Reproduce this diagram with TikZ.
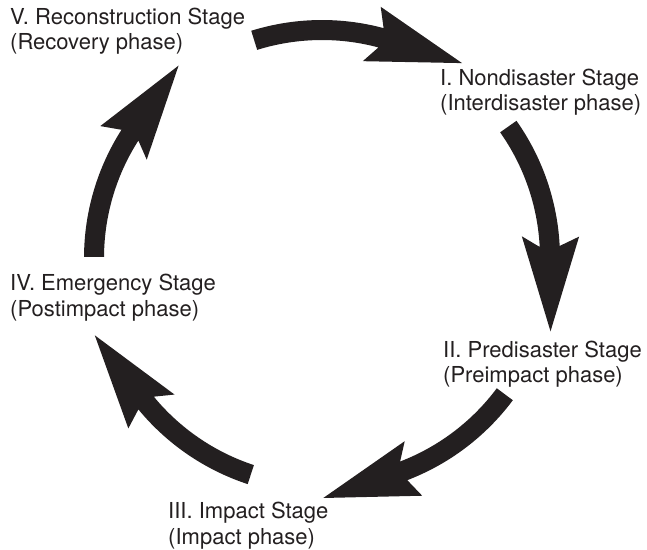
\documentclass[tikz,border=0pt]{standalone}
\usepackage{fontspec}
\setmainfont{TeX Gyre Heros}
\definecolor{ink}{RGB}{35,31,32}
\begin{document}
\begin{tikzpicture}[x=1pt,y=1pt,
  stagelabel/.style={anchor=west,align=left,inner sep=0pt,text=ink,
    font=\fontsize{22}{25.5}\selectfont},
  cyclearrow/.style={fill=ink,draw=none}]
\useasboundingbox (0,0) rectangle (647,549);
\coordinate (C) at (322,291);
% labels
\node[stagelabel] (s5) at (10,518) {V. Reconstruction Stage\\(Recovery phase)};
\node[stagelabel] (s1) at (440,457) {I. Nondisaster Stage\\(Interdisaster phase)};
\node[stagelabel] (s2) at (443,185) {II. Predisaster Stage\\(Preimpact phase)};
\node[stagelabel] (s3) at (168,23.5) {III. Impact Stage\\(Impact phase)};
\node[stagelabel] (s4) at (10,251.5) {IV. Emergency Stage\\(Postimpact phase)};
% arrows
\foreach \t in {107.3,35.2,-36.7,-108.2,-180.3}{
  \begin{scope}[shift={(C)},rotate=\t]
    \fill[cyclearrow] (0:218) -- (0:238) arc[start angle=0,end angle=-32.3,radius=238]
      -- (-30.45:258) -- (-53:240) -- (-29:201) -- (-32.3:218)
      arc[start angle=-32.3,end angle=0,radius=218] -- cycle;
  \end{scope}
}
\end{tikzpicture}
\end{document}
